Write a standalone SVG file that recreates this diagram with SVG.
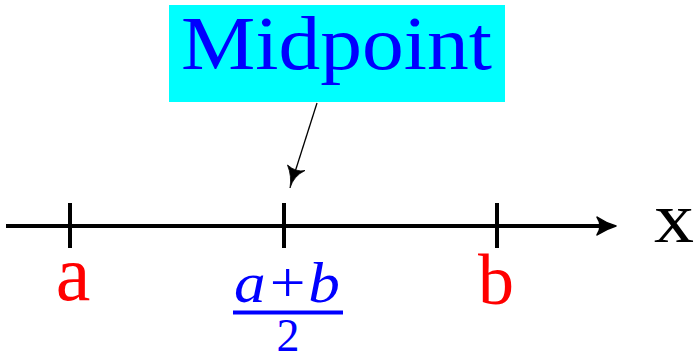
<svg xmlns="http://www.w3.org/2000/svg" width="696" height="361" viewBox="0 0 696 361">
<style>
.serif{font-family:"Liberation Serif","DejaVu Serif",serif}
.axis{stroke:#000;stroke-width:4;fill:none}
.tick{stroke:#000;stroke-width:4}
.red{fill:#ff0000}
.blue{fill:#0000ff}
</style>
<rect width="696" height="361" fill="#fff"/>
<g id="axis-line">
<line class="axis" x1="6" y1="226" x2="606" y2="226"/>
<path d="M616,226 Q606,229 597,235 Q603,226 597,217 Q606,223 616,226 Z" fill="#000" stroke="#000" stroke-width="1.5" stroke-linejoin="round"/>
<text class="serif" x="654" y="242" font-size="72" fill="#000" textLength="40" lengthAdjust="spacingAndGlyphs">x</text>
</g>
<g id="tick-a">
<line class="tick" x1="70" y1="203" x2="70" y2="248"/>
<text class="serif red" x="73" y="300" font-size="78" text-anchor="middle">a</text>
</g>
<g id="tick-mid">
<line class="tick" x1="284" y1="203" x2="284" y2="248"/>
<text class="serif blue" x="287" y="302" font-size="56" font-style="italic" text-anchor="middle" textLength="106" lengthAdjust="spacingAndGlyphs">a+b</text>
<line x1="233" y1="312.5" x2="343" y2="312.5" stroke="#0000ff" stroke-width="4"/>
<text class="serif blue" x="288" y="351" font-size="46" text-anchor="middle">2</text>
</g>
<g id="tick-b">
<line class="tick" x1="497" y1="203" x2="497" y2="248"/>
<text class="serif red" x="496" y="304" font-size="72" text-anchor="middle">b</text>
</g>
<g id="midpoint-label">
<rect x="169" y="5" width="336" height="97" fill="#00ffff"/>
<text class="serif blue" x="181" y="69" font-size="76" textLength="311" lengthAdjust="spacingAndGlyphs">Midpoint</text>
</g>
<g id="connectors">
<line x1="317" y1="103" x2="295" y2="172" stroke="#000" stroke-width="1.3"/>
<path d="M290,188 Q293.5,176 305,170.5 Q296,172.5 287.5,165 Q292,176 290,188 Z" fill="#000" stroke="#000" stroke-width="0.8" stroke-linejoin="round"/>
</g>
</svg>
